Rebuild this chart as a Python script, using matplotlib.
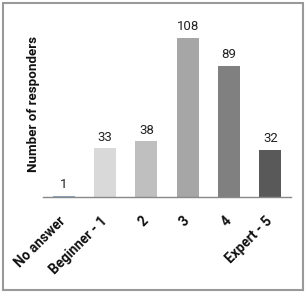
import matplotlib
matplotlib.use("Agg")
import matplotlib.pyplot as plt
import matplotlib.transforms as mtransforms
from matplotlib.patches import Rectangle

categories = ["No answer", "Beginner - 1", "2", "3", "4", "Expert - 5"]
values = [1, 33, 38, 108, 89, 32]
colors = ["#8FA8BF", "#D9D9D9", "#BFBFBF", "#A6A6A6", "#808080", "#595959"]

plt.rcParams['font.family'] = ['Roboto', 'DejaVu Sans']

fig = plt.figure(figsize=(3.07, 2.93), dpi=100)
W, H = 307, 293
ax = fig.add_axes([43 / W, 1 - 197 / H, 248 / W, 177 / H])

x = list(range(len(categories)))
bars = ax.bar(x, values, width=0.53, color=colors)
ax.set_xlim(-0.5, len(categories) - 0.5)
ax.set_ylim(0, 120)

for xi, v in zip(x, values):
    ax.text(xi, v + 3, str(v), ha='center', va='bottom', fontsize=9.5, color='#222222')

for s in ['top', 'right', 'left']:
    ax.spines[s].set_visible(False)
ax.spines['bottom'].set_color('#888888')
ax.spines['bottom'].set_linewidth(1.0)
ax.set_yticks([])
ax.set_xticks(x)
ax.set_xticklabels(categories, rotation=45, ha='right', rotation_mode='anchor',
                   fontsize=9.8, fontweight='bold', color='#111111')
ax.tick_params(axis='x', length=0, pad=12)
offset = mtransforms.ScaledTranslation(-3.5 / 72, 0, fig.dpi_scale_trans)
for lab in ax.get_xticklabels():
    lab.set_transform(lab.get_transform() + offset)

fig.text(34 / W, 1 - 104 / H, "Number of responders", rotation=90, ha='center', va='center',
         fontsize=9.6, fontweight='bold', color='#111111')

fig.patches.append(Rectangle((3 / W, 3 / H), 300 / W, 287 / H, transform=fig.transFigure,
                             fill=False, edgecolor='#999999', linewidth=1.5))

fig.savefig("out.png", dpi=100)
